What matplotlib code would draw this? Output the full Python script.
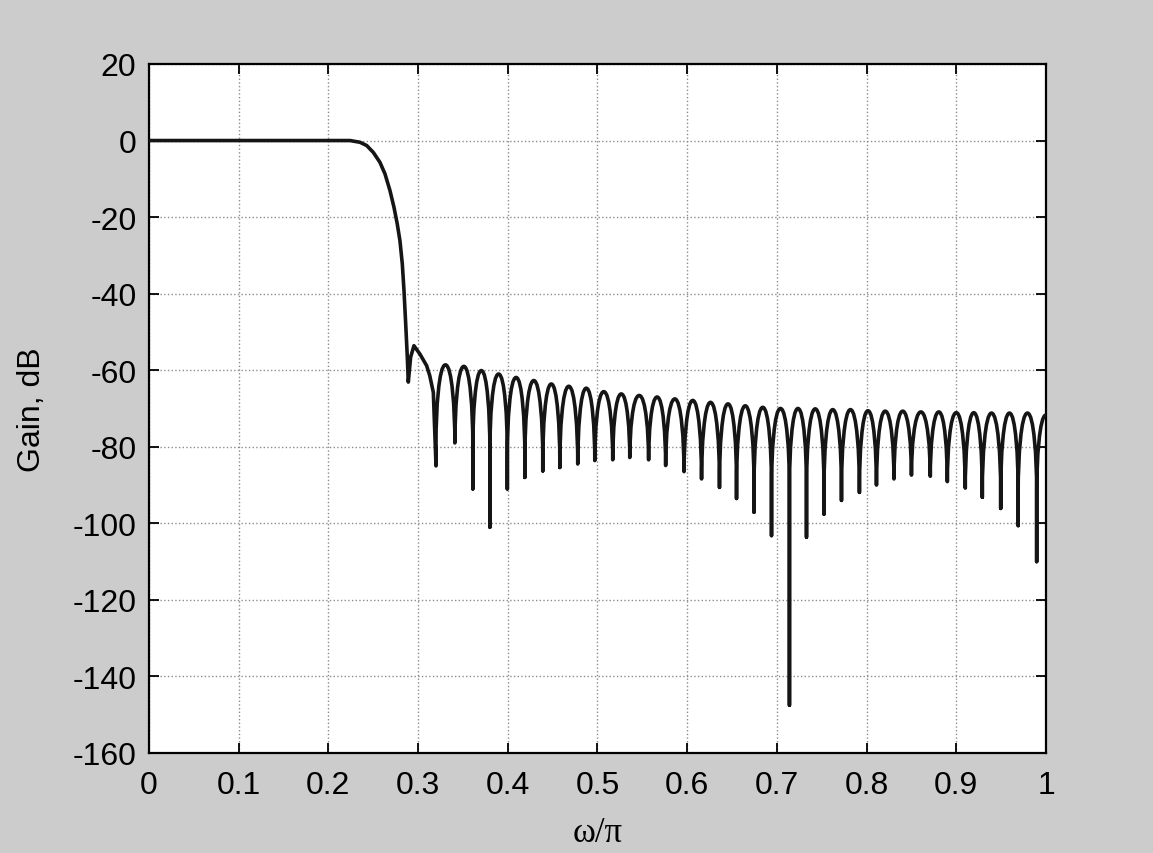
import matplotlib
matplotlib.use('Agg')
import matplotlib.pyplot as plt
from matplotlib.path import Path
from matplotlib.patches import PathPatch

plt.rcParams['axes.unicode_minus'] = False

# passband + transition band (w/pi, dB)
trans_w = [0.0, 0.2241, 0.2352, 0.2427, 0.2501, 0.2575, 0.2631, 0.2687,
           0.2731, 0.2768, 0.2798, 0.2824, 0.2843, 0.2862, 0.288, 0.2891,
           0.2917, 0.2954, 0.3021, 0.3095, 0.313, 0.317, 0.320]
trans_db = [0.0, 0.0, -0.45, -1.3, -3.1, -5.7, -8.7, -13.1,
            -17.4, -21.8, -26.2, -32.2, -39.2, -47.9, -56.6, -63.1,
            -56.6, -53.6, -55.8, -58.8, -61.4, -65.8, -85.0]

# stopband zeros and how deep they show up
null_w = [0.320, 0.341, 0.361, 0.380, 0.3995, 0.419, 0.439, 0.458, 0.478,
          0.497, 0.517, 0.536, 0.557, 0.576, 0.5965, 0.616, 0.636, 0.655,
          0.6745, 0.694, 0.714, 0.733, 0.7525, 0.772, 0.792, 0.811, 0.8305,
          0.850, 0.871, 0.890, 0.910, 0.929, 0.9495, 0.969, 0.9896]
null_db = [-85.0, -79.0, -91.0, -101.0, -91.0, -88.0, -86.3, -85.4, -84.5,
           -83.6, -83.4, -82.8, -83.4, -84.9, -86.5, -88.4, -90.6, -93.5,
           -97.1, -103.2, -147.5, -103.6, -97.6, -94.0, -91.9, -90.0, -88.4,
           -87.4, -87.7, -89.1, -90.8, -93.2, -96.1, -100.6, -110.0]
# ripple peaks between consecutive zeros
peak_db = [-58.6, -59.0, -60.1, -61.0, -61.9, -62.7, -63.6, -64.2, -64.7,
           -65.6, -66.2, -66.6, -67.0, -67.5, -67.9, -68.4, -68.8, -69.3,
           -69.7, -70.0, -70.0, -70.1, -70.3, -70.3, -70.6, -70.7, -70.7,
           -70.9, -70.9, -71.1, -71.1, -71.2, -71.2, -71.2]
# last half ripple up to w/pi = 1
edge_w = 1.0
edge_db = -71.7


def rise(x0, d0, xm, p):
    # spike up from a zero, then a round arch over to the peak
    v, c = [], []
    knee = p - 20
    if d0 < knee:
        v.append((x0, knee)); c.append(Path.LINETO)
        c1 = p - 12
    else:
        c1 = d0 + 0.4 * (p - d0)
    v += [(x0, c1), (x0 + 0.3 * (xm - x0), p), (xm, p)]
    c += [Path.CURVE4] * 3
    return v, c


def fall(xm, p, x1, d1):
    v, c = [], []
    knee = p - 20
    if d1 < knee:
        v += [(x1 - 0.3 * (x1 - xm), p), (x1, p - 12), (x1, knee)]
        c += [Path.CURVE4] * 3
        v.append((x1, d1)); c.append(Path.LINETO)
    else:
        c1 = d1 + 0.4 * (p - d1)
        v += [(x1 - 0.3 * (x1 - xm), p), (x1, c1), (x1, d1)]
        c += [Path.CURVE4] * 3
    return v, c


verts = [(trans_w[0], trans_db[0])]
codes = [Path.MOVETO]
for w, g in zip(trans_w[1:], trans_db[1:]):
    verts.append((w, g))
    codes.append(Path.LINETO)

for i, p in enumerate(peak_db):
    x0, x1 = null_w[i], null_w[i + 1]
    xm = 0.5 * (x0 + x1)
    v, c = rise(x0, null_db[i], xm, p)
    verts += v; codes += c
    v, c = fall(xm, p, x1, null_db[i + 1])
    verts += v; codes += c

v, c = rise(null_w[-1], null_db[-1], edge_w, edge_db)
verts += v; codes += c

fig = plt.figure(figsize=(11.53, 8.54), dpi=100, facecolor='#cccccc')
ax = fig.add_axes([0.1292, 0.1171, 0.778, 0.8068])
ax.set_facecolor('white')

ax.add_patch(PathPatch(Path(verts, codes), fill=False, edgecolor='#151515',
                       linewidth=2.6, joinstyle='round', capstyle='round',
                       zorder=3))

ax.set_xlim(0, 1)
ax.set_ylim(-160, 20)
ax.set_xticks([i / 10 for i in range(11)])
ax.set_xticklabels(['0', '0.1', '0.2', '0.3', '0.4', '0.5', '0.6', '0.7',
                    '0.8', '0.9', '1'])
ax.set_yticks(range(-160, 21, 20))
ax.grid(True, linestyle=':', color='#8c8c8c', linewidth=1.0)
ax.set_axisbelow(True)

ax.tick_params(direction='in', length=7, width=1.3, top=True, right=True,
               labelsize=23)
ax.tick_params(axis='x', pad=12)
ax.tick_params(axis='y', pad=9)
for lab in ax.get_xticklabels() + ax.get_yticklabels():
    lab.set_family('Liberation Sans')
for s in ax.spines.values():
    s.set_linewidth(1.6)

ax.set_ylabel('Gain, dB', fontsize=23, family='Liberation Sans', labelpad=18)
ax.set_xlabel('ω/π', fontsize=25, family='Liberation Serif', labelpad=12)

fig.savefig('out.png', dpi=100, facecolor=fig.get_facecolor())
